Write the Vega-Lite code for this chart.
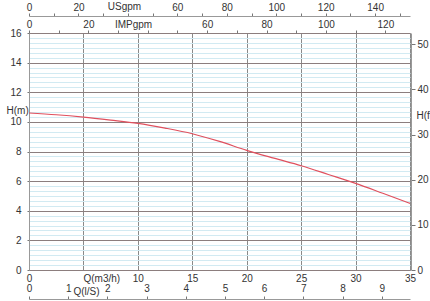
{
  "$schema": "https://vega.github.io/schema/vega-lite/v6.json",
  "width": 381,
  "height": 237,
  "autosize": {"type": "none"},
  "padding": {"left": 29, "top": 33, "right": 20, "bottom": 31},
  "background": "white",
  "config": {
    "font": "Liberation Sans",
    "view": {"stroke": "#b0b0b0", "strokeWidth": 1},
    "axis": {
      "labelFont": "Liberation Sans",
      "titleFont": "Liberation Sans",
      "labelFontSize": 10,
      "titleFontSize": 10,
      "titleFontWeight": "normal",
      "labelColor": "#333",
      "titleColor": "#333",
      "domainColor": "#999",
      "tickColor": "#777",
      "labelFlush": false,
      "labelOverlap": false
    }
  },
  "data": {
    "values": [
      {"Q": 0, "H": 10.6},
      {"Q": 2.5, "H": 10.48},
      {"Q": 5, "H": 10.32},
      {"Q": 7.5, "H": 10.12},
      {"Q": 10, "H": 9.9},
      {"Q": 12.5, "H": 9.58},
      {"Q": 15, "H": 9.2},
      {"Q": 17.5, "H": 8.68},
      {"Q": 20, "H": 8.08},
      {"Q": 22.5, "H": 7.55},
      {"Q": 25, "H": 7.04},
      {"Q": 27.5, "H": 6.45},
      {"Q": 30, "H": 5.85},
      {"Q": 32.5, "H": 5.18},
      {"Q": 35, "H": 4.5}
    ]
  },
  "layer": [
    {
      "mark": {"type": "line", "opacity": 0},
      "encoding": {
        "x": {"field": "Q", "type": "quantitative", "scale": {"domain": [0, 35], "nice": false}, "axis": null},
        "y": {
          "field": "H", "type": "quantitative",
          "scale": {"domain": [0, 16], "nice": false},
          "axis": {
            "orient": "left", "title": null, "labels": false, "ticks": false, "domain": false,
            "grid": true, "gridColor": "#d2eaf2", "gridWidth": 1, "gridOpacity": 1,
            "values": [0.3333, 0.6667, 1, 1.3333, 1.6667, 2.3333, 2.6667, 3, 3.3333, 3.6667, 4.3333, 4.6667, 5, 5.3333, 5.6667, 6.3333, 6.6667, 7, 7.3333, 7.6667, 8.3333, 8.6667, 9, 9.3333, 9.6667, 10.3333, 10.6667, 11, 11.3333, 11.6667, 12.3333, 12.6667, 13, 13.3333, 13.6667, 14.3333, 14.6667, 15, 15.3333, 15.6667]
          }
        }
      }
    },
    {
      "mark": {"type": "line", "color": "#e0505e", "strokeWidth": 1.2, "interpolate": "monotone"},
      "encoding": {
        "x": {
          "field": "Q", "type": "quantitative",
          "scale": {"domain": [0, 35], "nice": false},
          "axis": {
            "orient": "bottom", "values": [0, 5, 10, 15, 20, 25, 30, 35],
            "labelExpr": "datum.value == 5 ? '' : datum.label",
            "ticks": false, "tickSize": 0, "domain": false, "labelPadding": 3,
            "grid": true, "gridColor": "#8a8a8a", "gridWidth": 1,
            "title": "Q(m3/h)", "titleX": 54, "titleY": 11, "titleAlign": "left", "titleBaseline": "alphabetic", "titleAnchor": null
          }
        },
        "y": {
          "field": "H", "type": "quantitative",
          "scale": {"domain": [0, 16], "nice": false},
          "axis": {
            "orient": "left", "values": [0, 2, 4, 6, 8, 10, 12, 14, 16],
            "tickSize": 2, "labelPadding": 6, "domain": true,
            "grid": true, "gridColor": "#8c7e7e", "gridWidth": 1,
            "title": "H(m)", "titleAngle": 0, "titleX": -23, "titleY": 77, "titleAlign": "left", "titleBaseline": "middle", "titleAnchor": null
          }
        }
      }
    },
    {
      "mark": {"type": "line", "opacity": 0},
      "encoding": {
        "x": {
          "field": "Q", "type": "quantitative",
          "scale": {"domain": [0, 154.1], "nice": false},
          "axis": {
            "orient": "top", "offset": 17,
            "values": [0, 10, 20, 30, 40, 50, 60, 70, 80, 90, 100, 110, 120, 130, 140, 150],
            "labelExpr": "datum.value % 20 == 0 && datum.value != 40 ? datum.label : ''",
            "tickSize": 3, "labelPadding": 1, "domain": true, "grid": false,
            "title": "USgpm", "titleX": 95, "titleY": -10, "titleAlign": "center", "titleBaseline": "middle", "titleAnchor": null
          }
        },
        "y": {"field": "H", "type": "quantitative", "scale": {"domain": [0, 16]}, "axis": null}
      }
    },
    {
      "mark": {"type": "line", "opacity": 0},
      "encoding": {
        "x": {
          "field": "Q", "type": "quantitative",
          "scale": {"domain": [0, 128.3], "nice": false},
          "axis": {
            "orient": "top", "offset": 0,
            "values": [0, 10, 20, 30, 40, 50, 60, 70, 80, 90, 100, 110, 120],
            "labelExpr": "datum.value % 20 == 0 && datum.value != 40 ? datum.label : ''",
            "tickSize": 3, "labelPadding": 1, "domain": false, "grid": false,
            "title": "IMPgpm", "titleX": 104, "titleY": -9, "titleAlign": "center", "titleBaseline": "middle", "titleAnchor": null
          }
        },
        "y": {"field": "H", "type": "quantitative", "scale": {"domain": [0, 16]}, "axis": null}
      }
    },
    {
      "mark": {"type": "line", "opacity": 0},
      "encoding": {
        "x": {
          "field": "Q", "type": "quantitative",
          "scale": {"domain": [0, 9.722], "nice": false},
          "axis": {
            "orient": "top", "offset": -266,
            "values": [0, 1, 2, 3, 4, 5, 6, 7, 8, 9],
            "tickSize": 3, "labelPadding": 3, "domain": true, "grid": false,
            "title": "Q(l/S)", "titleX": 44, "titleY": -8, "titleAlign": "left", "titleBaseline": "middle", "titleAnchor": null
          }
        },
        "y": {"field": "H", "type": "quantitative", "scale": {"domain": [0, 16]}, "axis": null}
      }
    },
    {
      "mark": {"type": "line", "opacity": 0},
      "encoding": {
        "x": {"field": "Q", "type": "quantitative", "scale": {"domain": [0, 35], "nice": false}, "axis": null},
        "y": {
          "field": "H", "type": "quantitative",
          "scale": {"domain": [0, 52.49], "nice": false},
          "axis": {
            "orient": "right", "offset": 1,
            "values": [0, 10, 20, 30, 40, 50],
            "tickSize": 4, "labelPadding": 2, "domain": true, "grid": false,
            "title": "H(ft)", "titleAngle": 0, "titleX": 5, "titleY": 82, "titleAlign": "left", "titleBaseline": "middle", "titleAnchor": null
          }
        }
      }
    }
  ],
  "resolve": {
    "scale": {"x": "independent", "y": "independent"},
    "axis": {"x": "independent", "y": "independent"}
  }
}
